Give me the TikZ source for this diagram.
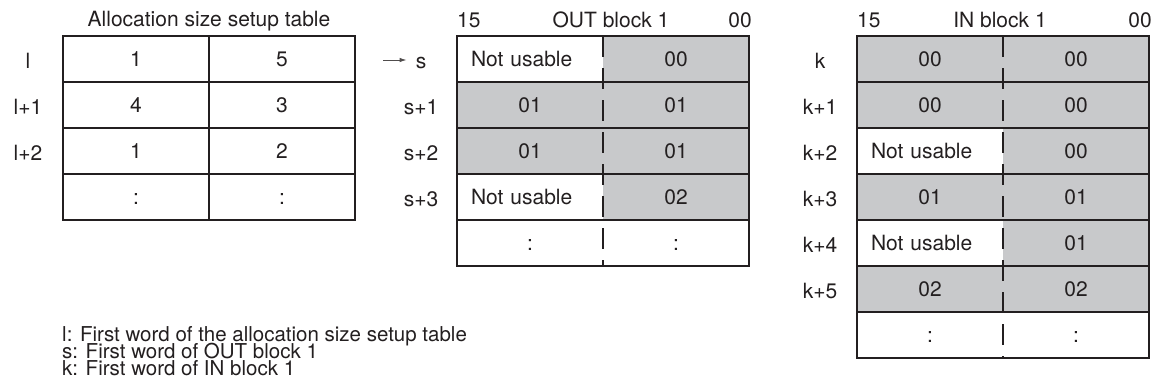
\documentclass[tikz,border=0pt]{standalone}
\usepackage{fontspec}
\setmainfont{TeX Gyre Heros}
\usepackage{tikz}
\usetikzlibrary{arrows.meta,positioning}
\definecolor{inkblack}{HTML}{231F20}
\definecolor{cellgray}{HTML}{C8C9CB}

\begin{document}
\begin{tikzpicture}[
    x=1pt,y=-1pt,
    font=\fontsize{21}{25}\selectfont,
    text=inkblack,
    cell/.style={minimum width=146pt,minimum height=46pt,inner sep=0pt,
      text height=15pt,text depth=0pt},
    cellw/.style={cell,fill=white},
    cellg/.style={cell,fill=cellgray},
    cellnu/.style={cell,fill=white,text width=118pt,inner xsep=14pt,align=left},
    rowframe/.style={draw=inkblack,line width=1.3pt,outer sep=0pt,
      minimum width=292pt,minimum height=46pt},
    divider/.style={draw=inkblack,line width=1.2pt,dash pattern=on 21pt off 11pt},
    wordlabel/.style={inner sep=0pt,text height=15pt,text depth=0pt},
    heading/.style={inner sep=0pt,anchor=base},
    note/.style={inner sep=0pt,anchor=base west,text height=14.5pt,text depth=1pt,
      font=\fontsize{20.5}{24}\selectfont},
    pointer/.style={-{Latex[length=7pt,width=4.5pt]},line width=0.9pt,inkblack!80,
      shorten >=9pt}
  ]
    \useasboundingbox (0,0) rectangle (1157,386);

    % allocation size setup table
    \node[heading] (alloctitle) at (209,26) {Allocation size setup table};
    \foreach \a/\b [count=\i] in {1/5,4/3,1/2,:/:} {
      \node[cellw] (alloca\i) at (136,13+46*\i) {\a};
      \node[cellw] (allocb\i) at (282,13+46*\i) {\b};
    }
    \foreach \i in {1,...,4} \node[rowframe] (allocrow\i) at (209,13+46*\i) {};
    \draw[inkblack,line width=1.3pt] (allocrow1.north) -- (allocrow4.south);
    \foreach \lab [count=\i] in {l,l+1,l+2}
      \node[wordlabel] (alloclab\i) at (28,15+46*\i) {\lab};

    % OUT block 1
    \node[heading,anchor=base west] (outmsb) at (457,27) {15};
    \node[heading] (outtitle) at (611,27) {OUT block 1};
    \node[heading,anchor=base east] (outlsb) at (752,27) {00};
    \foreach \ls/\lt/\rs/\rt [count=\i] in {cellnu/Not usable/cellg/00,
        cellg/01/cellg/01, cellg/01/cellg/01, cellnu/Not usable/cellg/02,
        cellw/:/cellw/:} {
      \node[\ls] (outa\i) at (530,13+46*\i) {\lt};
      \node[\rs] (outb\i) at (676,13+46*\i) {\rt};
    }
    \foreach \i in {1,...,5} \node[rowframe] (outrow\i) at (603,13+46*\i) {};
    \draw[divider] (outrow1.north) -- (outrow5.south);
    \foreach \lab [count=\i] in {s,s+1,s+2,s+3}
      \node[wordlabel] (outlab\i) at (421,15+46*\i) {\lab};
    \coordinate (outptr) at (383,60);
    \draw[pointer] (outptr) -- (outptr -| outlab1.west);

    % IN block 1
    \node[heading,anchor=base west] (inmsb) at (857,27) {15};
    \node[heading] (intitle) at (1000,27) {IN block 1};
    \node[heading,anchor=base east] (inlsb) at (1152,27) {00};
    \foreach \ls/\lt/\rs/\rt [count=\i] in {cellg/00/cellg/00,
        cellg/00/cellg/00, cellnu/Not usable/cellg/00, cellg/01/cellg/01,
        cellnu/Not usable/cellg/01, cellg/02/cellg/02, cellw/:/cellw/:} {
      \node[\ls] (ina\i) at (930,13+46*\i) {\lt};
      \node[\rs] (inb\i) at (1076,13+46*\i) {\rt};
    }
    \foreach \i in {1,...,7} \node[rowframe] (inrow\i) at (1003,13+46*\i) {};
    \draw[divider] (inrow1.north) -- (inrow7.south);
    \foreach \lab [count=\i] in {k,k+1,k+2,k+3,k+4,k+5}
      \node[wordlabel] (inlab\i) at (820,15+46*\i) {\lab};

    % key to the word names
    \node[note] (notel) at (62,341) {l: First word of the allocation size setup table};
    \node[note] (notes) at (62,358) {s: First word of OUT block 1};
    \node[note] (notek) at (62,375) {k: First word of IN block 1};
  \end{tikzpicture}
\end{document}
